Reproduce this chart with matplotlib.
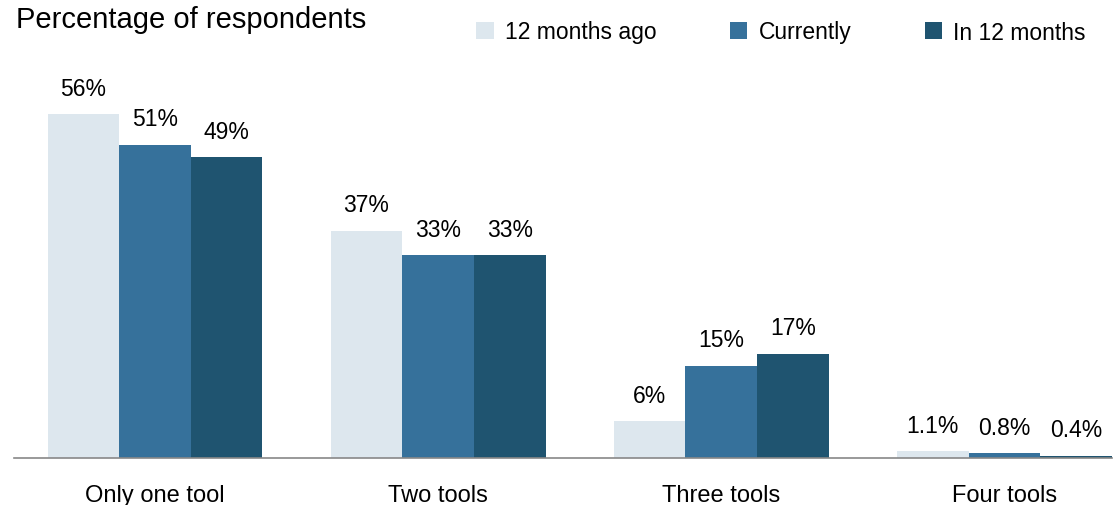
import numpy as np
import matplotlib.pyplot as plt

plt.rcParams['font.family'] = ['Liberation Sans', 'DejaVu Sans']

categories = ['Only one tool', 'Two tools', 'Three tools', 'Four tools']
series = ['12 months ago', 'Currently', 'In 12 months']
ago = [56, 37, 6, 1.1]
now = [51, 33, 15, 0.8]
later = [49, 33, 17, 0.4]
labels_ago = ['56%', '37%', '6%', '1.1%']
labels_now = ['51%', '33%', '15%', '0.8%']
labels_later = ['49%', '33%', '17%', '0.4%']

colors = ['#dde7ee', '#36719b', '#1f5470']

fig = plt.figure(figsize=(11.14, 5.06), dpi=100)
ax = fig.add_axes([14 / 1114, 1 - 459 / 506, 1098 / 1114, 399 / 506])

x = np.arange(len(categories))
w = 0.253
handles = []
for i, (vals, labs) in enumerate(zip([ago, now, later], [labels_ago, labels_now, labels_later])):
    bars = ax.bar(x + (i - 1) * w, vals, w, color=colors[i], label=series[i])
    handles.append(bars)
    for b, lab in zip(bars, labs):
        ax.annotate(lab, (b.get_x() + b.get_width() / 2, b.get_height()),
                    xytext=(0, 10.5), textcoords='offset points',
                    ha='center', va='bottom', fontsize=16.5)

ax.set_xlim(-0.498, 3.38)
ax.set_ylim(0, 65)
for s in ['top', 'right', 'left']:
    ax.spines[s].set_visible(False)
ax.spines['bottom'].set_color('#888888')
ax.spines['bottom'].set_linewidth(1.2)
ax.set_yticks([])
ax.set_xticks(x)
ax.set_xticklabels(categories, fontsize=17)
ax.tick_params(axis='x', length=0, pad=19)

fig.text(16 / 1114, 1 - 20 / 506, 'Percentage of respondents', fontsize=21,
         ha='left', va='center')
fig.legend(handles=handles, labels=series, ncol=3, frameon=False,
           loc='center right', bbox_to_anchor=(0.985, 1 - 33 / 506),
           fontsize=16.5, handlelength=0.75, handleheight=0.75,
           columnspacing=3.2, handletextpad=0.5, borderpad=0)

plt.savefig('out.png', dpi=100)
